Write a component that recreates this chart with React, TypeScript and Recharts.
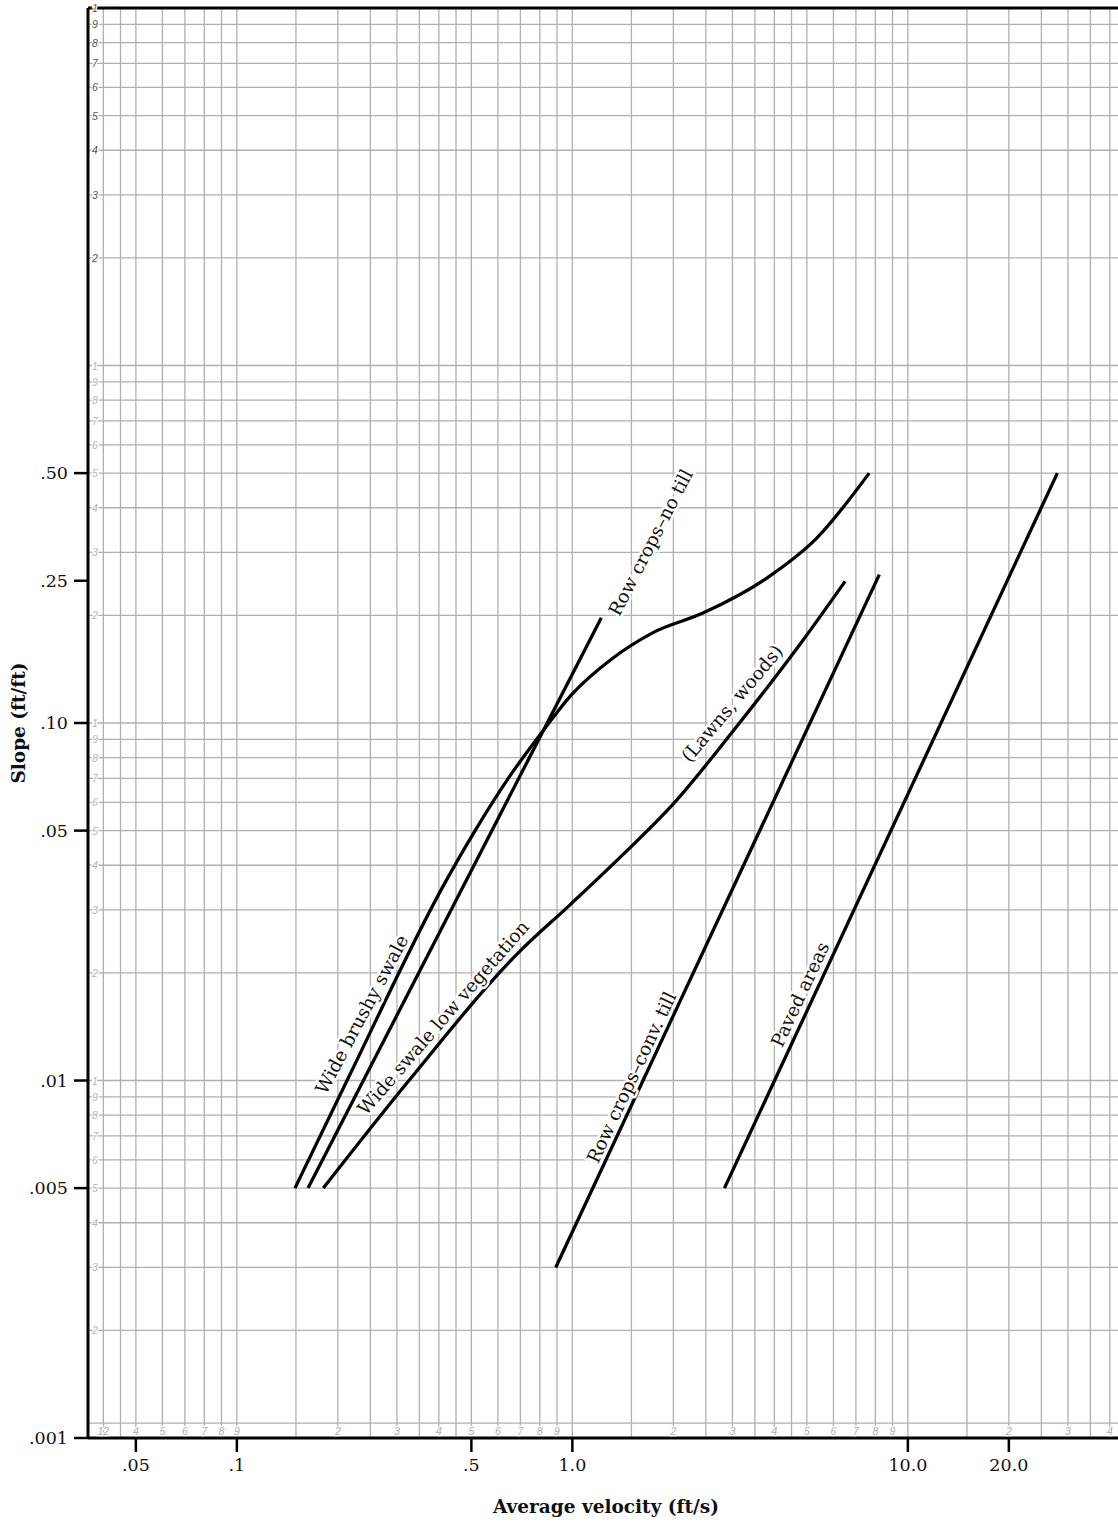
import React from "react";
import {
  LineChart,
  Line,
  XAxis,
  YAxis,
  CartesianGrid,
  ReferenceLine,
  ReferenceDot,
} from "recharts";

// major axis ticks
const xTicks = [0.05, 0.1, 0.5, 1, 10, 20];
const xTickText = [".05", ".1", ".5", "1.0", "10.0", "20.0"];
const yTicks = [0.001, 0.005, 0.01, 0.05, 0.1, 0.25, 0.5];
const yTickText = [".001", ".005", ".01", ".05", ".10", ".25", ".50"];

// rulings of the log paper
const xRulings = [
  0.04, 0.045, 0.05, 0.06, 0.07, 0.08, 0.09,
  0.1, 0.15, 0.2, 0.25, 0.3, 0.35, 0.4, 0.45, 0.5, 0.6, 0.7, 0.8, 0.9,
  1, 1.5, 2, 2.5, 3, 3.5, 4, 4.5, 5, 6, 7, 8, 9,
  10, 15, 20, 25, 30, 35, 40,
];
const yRulings = [
  0.0011, 0.002, 0.003, 0.004, 0.005, 0.006, 0.007, 0.008, 0.009,
  0.01, 0.02, 0.03, 0.04, 0.05, 0.06, 0.07, 0.08, 0.09,
  0.1, 0.2, 0.3, 0.4, 0.5, 0.6, 0.7, 0.8, 0.9,
  1, 2, 3, 4, 5, 6, 7, 8, 9, 10,
];

// small cycle numbers printed on the paper (as printed, first cycle is off by one)
const xCycleAt = [
  0.04, 0.05, 0.06, 0.07, 0.08, 0.09, 0.1,
  0.2, 0.3, 0.4, 0.5, 0.6, 0.7, 0.8, 0.9,
  2, 3, 4, 5, 6, 7, 8, 9,
  20, 30, 40,
];
const xCycleText = [
  "12", "4", "5", "6", "7", "8", "9",
  "2", "3", "4", "5", "6", "7", "8", "9",
  "2", "3", "4", "5", "6", "7", "8", "9",
  "2", "3", "4",
];
const yCycleAt = [
  0.002, 0.003, 0.004, 0.005, 0.006, 0.007, 0.008, 0.009,
  0.01, 0.02, 0.03, 0.04, 0.05, 0.06, 0.07, 0.08, 0.09,
  0.1, 0.2, 0.3, 0.4, 0.5, 0.6, 0.7, 0.8, 0.9,
  1, 2, 3, 4, 5, 6, 7, 8, 9, 10,
];
const yCycleText = [
  "2", "3", "4", "5", "6", "7", "8", "9",
  "1", "2", "3", "4", "5", "6", "7", "8", "9",
  "1", "2", "3", "4", "5", "6", "7", "8", "9",
  "1", "2", "3", "4", "5", "6", "7", "8", "9",
  "1",
];

// curves: v = average velocity (ft/s), s = slope (ft/ft)
const brushySwale = [
  { v: 0.149, s: 0.005 },
  { v: 0.213, s: 0.01 },
  { v: 0.419, s: 0.036 },
  { v: 0.513, s: 0.05 },
  { v: 0.644, s: 0.07 },
  { v: 0.817, s: 0.095 },
  { v: 0.995, s: 0.12 },
  { v: 1.31, s: 0.151 },
  { v: 1.74, s: 0.179 },
  { v: 2.45, s: 0.203 },
  { v: 3.79, s: 0.254 },
  { v: 5.35, s: 0.329 },
  { v: 7.67, s: 0.5 },
];
const rowNoTill = [
  { v: 0.163, s: 0.005 },
  { v: 1.22, s: 0.197 },
];
const lowVegetation = [
  { v: 0.181, s: 0.005 },
  { v: 0.323, s: 0.0099 },
  { v: 0.698, s: 0.023 },
  { v: 0.984, s: 0.031 },
  { v: 1.45, s: 0.0438 },
  { v: 1.99, s: 0.0591 },
  { v: 3.01, s: 0.0948 },
  { v: 4.77, s: 0.166 },
  { v: 6.5, s: 0.249 },
];
const rowConvTill = [
  { v: 0.892, s: 0.003 },
  { v: 8.22, s: 0.26 },
];
const pavedAreas = [
  { v: 2.84, s: 0.005 },
  { v: 27.9, s: 0.5 },
];

const curveLabelText = [
  "Row crops–no till",
  "Wide brushy swale",
  "Wide swale low vegetation",
  "(Lawns, woods)",
  "Row crops–conv. till",
  "Paved areas",
];
const curveLabelV = [1.71, 0.2355, 0.412, 2.99, 1.5, 4.77];
const curveLabelS = [0.32, 0.0153, 0.015, 0.1135, 0.0102, 0.0174];
const curveLabelAngle = [-62.7, -62, -49, -50, -65, -65];

const serif = "'DejaVu Serif', 'Liberation Serif', serif";
const sans = "'Liberation Sans', Arial, sans-serif";
const ruling = "#b0b0b0";

const xCycleLabel = (text: string) => (props: any) => {
  const { x, y } = props.viewBox;
  return (
    <text
      x={x}
      y={y - 3}
      textAnchor="middle"
      fontSize={10.5}
      fontStyle="italic"
      fontFamily={sans}
      fill="#b0b0b0"
      stroke="#fff"
      strokeWidth={2.5}
      paintOrder="stroke"
    >
      {text}
    </text>
  );
};

const yCycleLabel = (text: string, dark: boolean) => (props: any) => {
  const { x, y } = props.viewBox;
  return (
    <text
      x={x + 7}
      y={y}
      textAnchor="middle"
      dominantBaseline="central"
      fontSize={10.5}
      fontStyle="italic"
      fontFamily={sans}
      fill={dark ? "#555" : "#b5b5b5"}
      stroke="#fff"
      strokeWidth={2.5}
      paintOrder="stroke"
    >
      {text}
    </text>
  );
};

const curveLabel = (text: string, angle: number) => (props: any) => {
  const { x, y } = props.viewBox;
  return (
    <text
      x={x}
      y={y}
      transform={`rotate(${angle} ${x} ${y})`}
      textAnchor="middle"
      dominantBaseline="central"
      fontSize={18.5}
      fontFamily={serif}
      fill="#111"
      stroke="#fff"
      strokeWidth={5}
      strokeLinejoin="round"
      paintOrder="stroke"
    >
      {text}
    </text>
  );
};

const xTitle = (props: any) => {
  const vb = props.viewBox;
  return (
    <text x={vb.x + vb.width / 2 + 3} y={vb.y + 75} textAnchor="middle" fontSize={18.5} fontWeight="bold" fontFamily={serif} fill="#111">
      Average velocity (ft/s)
    </text>
  );
};

const yTitle = (props: any) => {
  const vb = props.viewBox;
  const cx = 18;
  const cy = vb.y + vb.height / 2;
  return (
    <text x={cx} y={cy} transform={`rotate(-90 ${cx} ${cy})`} textAnchor="middle" dominantBaseline="central" fontSize={18.5} fontWeight="bold" fontFamily={serif} fill="#111">
      Slope (ft/ft)
    </text>
  );
};

const X_DOMAIN = [0.036, 42.3];
const Y_DOMAIN = [0.001, 10];

const curves = [brushySwale, rowNoTill, lowVegetation, rowConvTill, pavedAreas];

export default function App() {
  return (
    <div style={{ position: "absolute", left: 0, top: 0, width: 1118, height: 1523, background: "#fff" }}>
      <LineChart width={1118} height={1523} margin={{ top: 8, right: 0, bottom: 0, left: 0 }}>
        <YAxis yAxisId="grid" type="number" scale="log" domain={Y_DOMAIN} allowDataOverflow ticks={yRulings} interval={0} hide />
        <CartesianGrid yAxisId="grid" vertical={false} stroke={ruling} strokeWidth={1.3} />
        <XAxis
          dataKey="v"
          type="number"
          scale="log"
          domain={X_DOMAIN}
          allowDataOverflow
          ticks={xTicks}
          interval={0}
          tickFormatter={(t: number) => xTickText[xTicks.indexOf(t)] ?? ""}
          height={85}
          tickSize={14}
          tickMargin={7}
          tick={{ fill: "#111", fontSize: 17.5, fontFamily: serif }}
          tickLine={{ stroke: "#000", strokeWidth: 2.5 }}
          axisLine={{ stroke: "#000", strokeWidth: 3 }}
          label={xTitle}
        />
        <YAxis
          dataKey="s"
          type="number"
          scale="log"
          domain={Y_DOMAIN}
          allowDataOverflow
          ticks={yTicks}
          interval={0}
          tickFormatter={(t: number) => yTickText[yTicks.indexOf(t)] ?? ""}
          width={88}
          tickSize={14}
          tickMargin={6}
          tick={{ fill: "#111", fontSize: 17.5, fontFamily: serif }}
          tickLine={{ stroke: "#000", strokeWidth: 2.5 }}
          axisLine={{ stroke: "#000", strokeWidth: 3 }}
          label={yTitle}
        />
        {xRulings.map((v, i) => (
          <ReferenceLine key={`xr${i}`} x={v} stroke={ruling} strokeWidth={1.3} zIndex={-100} />
        ))}
        <ReferenceLine y={10} stroke="#000" strokeWidth={3} ifOverflow="visible" />
        {xCycleAt.map((v, i) => (
          <ReferenceDot key={`xc${i}`} x={v} y={0.001} r={0} fill="none" stroke="none" ifOverflow="visible" label={xCycleLabel(xCycleText[i])} />
        ))}
        {yCycleAt.map((v, i) => (
          <ReferenceDot key={`yc${i}`} x={0.036} y={v} r={0} fill="none" stroke="none" ifOverflow="visible" label={yCycleLabel(yCycleText[i], v > 1.5)} />
        ))}
        {curves.map((d, i) => (
          <Line
            key={`c${i}`}
            data={d}
            dataKey="s"
            type={d.length > 2 ? "monotone" : "linear"}
            stroke="#000"
            strokeWidth={3.3}
            dot={false}
            activeDot={false}
            isAnimationActive={false}
          />
        ))}
        {curveLabelText.map((t, i) => (
          <ReferenceDot
            key={`cl${i}`}
            x={curveLabelV[i]}
            y={curveLabelS[i]}
            r={0}
            fill="none"
            stroke="none"
            ifOverflow="visible"
            label={curveLabel(t, curveLabelAngle[i])}
          />
        ))}
      </LineChart>
    </div>
  );
}
